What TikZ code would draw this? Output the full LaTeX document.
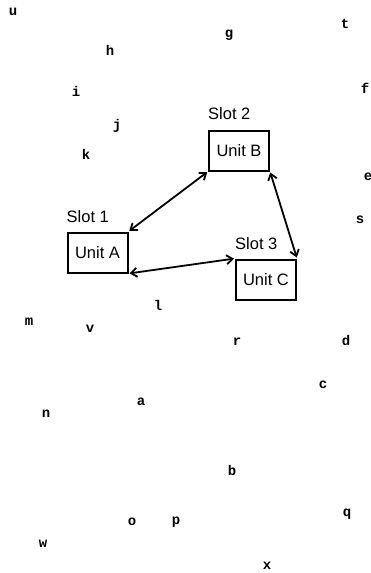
\documentclass[tikz,border=0pt]{standalone}
\usepackage{fontspec}
\setmainfont{Liberation Sans}
\newfontfamily\tagfont{Liberation Mono}
\usetikzlibrary{arrows.meta, positioning}
\tikzset{
  unit/.style    = {rectangle, draw=black, line width=2pt, minimum width=60pt, minimum height=40pt, align=center, font=\fontsize{16.5}{18}\selectfont, inner sep=0pt},
  slotlab/.style = {anchor=south west, inner sep=0pt, font=\fontsize{16.5}{18}\selectfont},
  link/.style    = {{Straight Barb[length=6pt, width=9pt]}-{Straight Barb[length=6pt, width=9pt]}, line width=1.8pt, shorten <=1pt, shorten >=1pt},
  tag/.style     = {inner sep=0pt, font=\tagfont\bfseries\fontsize{14}{14}\selectfont},
}

\begin{document}
\begin{tikzpicture}[x=1pt, y=-1pt]

\useasboundingbox (0,0) rectangle (370,573);

% ==================== units ====================
\node[unit] (A) at (97.5, 252.5) {Unit A};
\node[unit] (B) at (239, 150.5)  {Unit B};
\node[unit] (C) at (266, 279.5)  {Unit C};

% ==================== slot labels ====================
\node[slotlab] (slot1) at ([yshift=9pt]A.north west) {Slot 1};
\node[slotlab] (slot2) at ([yshift=10pt]B.north west) {Slot 2};
\node[slotlab] (slot3) at ([yshift=9pt]C.north west) {Slot 3};

% ==================== links ====================
\draw[link] (A.north east) -- (B.south west);
\draw[link] (A.south east) -- (C.north west);
\draw[link] (B.south east) -- (C.north east);

% ==================== scattered letters ====================
\foreach \ch/\px/\py in {u/13/12, h/110/50, g/229/35, t/345/24, i/76/91, f/365/88,
                         j/117/126, k/86/154, e/368/177, s/360/220, l/158/305,
                         m/29/322, v/90/329, r/237/342, d/346/340, c/323/385,
                         a/141/402, n/46/414, b/232/470, q/347/514, o/132/522,
                         p/176/522, w/43/544, x/267/566}
  \node[tag] (tag-\ch) at (\px, \py) {\ch};

\end{tikzpicture}
\end{document}
